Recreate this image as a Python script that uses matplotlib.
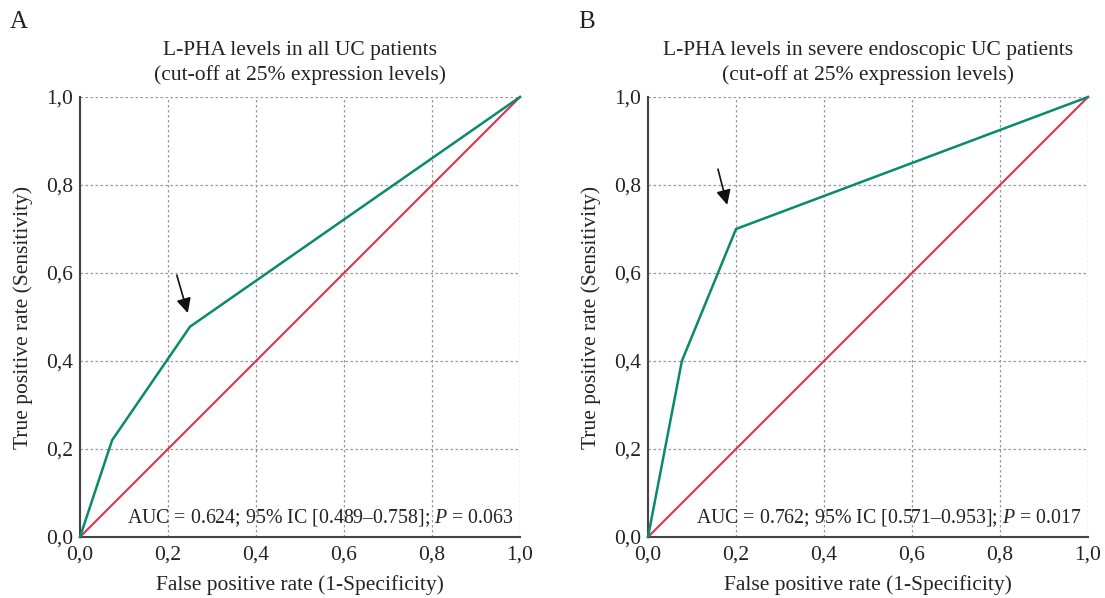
import matplotlib
matplotlib.use("Agg")
import matplotlib.pyplot as plt

plt.rcParams['font.family'] = ['Liberation Serif', 'DejaVu Serif']
plt.rcParams['mathtext.fontset'] = 'custom'
plt.rcParams['mathtext.rm'] = 'Liberation Serif'
plt.rcParams['mathtext.it'] = 'Liberation Serif:italic'

# Data
fpr_a = [0.0, 0.073, 0.25, 1.0]
tpr_a = [0.0, 0.22, 0.478, 1.0]
fpr_b = [0.0, 0.077, 0.2, 1.0]
tpr_b = [0.0, 0.4, 0.7, 1.0]
diag = [0.0, 1.0]
ticks = [0.0, 0.2, 0.4, 0.6, 0.8, 1.0]
tick_labels = ["0,0", "0,2", "0,4", "0,6", "0,8", "1,0"]
titles = ["L-PHA levels in all UC patients\n(cut-off at 25% expression levels)",
          "L-PHA levels in severe endoscopic UC patients\n(cut-off at 25% expression levels)"]
auc_texts = ["AUC = 0.624; 95% IC [0.489–0.758]; $\\it{P}$ = 0.063",
             "AUC = 0.762; 95% IC [0.571–0.953]; $\\it{P}$ = 0.017"]
arrow_tail = [(0.22, 0.595), (0.159, 0.836)]
arrow_tip = [(0.245, 0.509), (0.18, 0.755)]
panel_letters = ["A", "B"]

GREEN = "#0a8a6c"
RED = "#e0304a"

fig = plt.figure(figsize=(11.05, 5.98), dpi=100)
lefts = [80 / 1105, 648 / 1105]
W = 440 / 1105
B = 61 / 598
H = 440 / 598
letter_x = [10 / 1105, 578 / 1105]

for i in range(2):
    ax = fig.add_axes([lefts[i], B, W, H])
    fx, ty = (fpr_a, tpr_a) if i == 0 else (fpr_b, tpr_b)
    ax.plot(diag, diag, color=RED, lw=1.5, zorder=3, clip_on=False)
    ax.plot(fx, ty, color=GREEN, lw=1.8, zorder=4, clip_on=False)
    ax.set_xlim(0, 1)
    ax.set_ylim(0, 1)
    ax.set_xticks(ticks)
    ax.set_yticks(ticks)
    ax.set_xticklabels(tick_labels, fontsize=15.5)
    ax.set_yticklabels(tick_labels, fontsize=15.5)
    ax.tick_params(axis='x', length=0, pad=6, colors='#222222')
    ax.tick_params(axis='y', length=0, pad=5, colors='#222222')
    ax.grid(True, linestyle=(0, (2, 2)), color='#999999', lw=0.9)
    ax.spines['top'].set_visible(False)
    ax.spines['right'].set_visible(False)
    for s in ['left', 'bottom']:
        ax.spines[s].set_color('#444444')
        ax.spines[s].set_linewidth(1.5)
    ax.set_xlabel("False positive rate (1-Specificity)", fontsize=15.5, color='#222222', labelpad=8)
    ax.set_ylabel("True positive rate (Sensitivity)", fontsize=15.5, color='#222222', labelpad=9)
    ax.set_title(titles[i], fontsize=15.5, color='#222222', pad=12, linespacing=1.35)
    ax.text(0.985, 0.018, auc_texts[i], transform=ax.transAxes, ha='right', va='bottom',
            fontsize=14.3, color='#222222')
    ax.annotate("", xy=arrow_tip[i], xytext=arrow_tail[i],
                arrowprops=dict(arrowstyle='-|>', color='#111111', lw=1.2,
                                mutation_scale=22, shrinkA=0, shrinkB=0))
    fig.text(letter_x[i], 1 - 22 / 598, panel_letters[i], fontsize=18, color='#222222',
             ha='left', va='center')

fig.savefig("out.png", dpi=100)
